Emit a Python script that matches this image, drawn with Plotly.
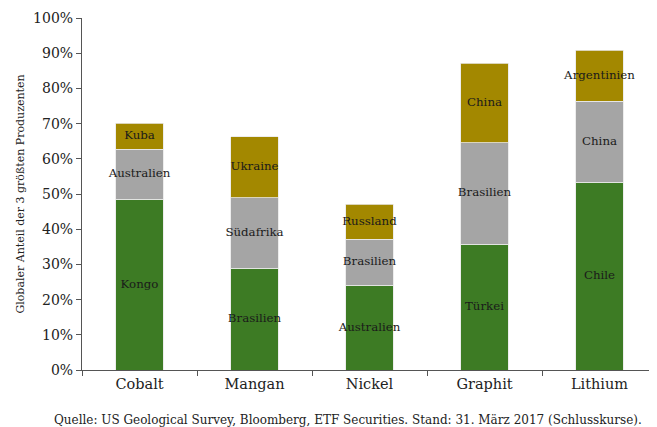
import plotly.graph_objects as go

categories = ["Cobalt", "Mangan", "Nickel", "Graphit", "Lithium"]
first_vals = [48.5, 28.9, 24.1, 35.7, 53.4]
second_vals = [14.2, 20.1, 13.1, 28.9, 22.9]
third_vals = [7.4, 17.3, 9.9, 22.6, 14.5]
first_names = ["Kongo", "Brasilien", "Australien", "Türkei", "Chile"]
second_names = ["Australien", "Südafrika", "Brasilien", "Brasilien", "China"]
third_names = ["Kuba", "Ukraine", "Russland", "China", "Argentinien"]
y_ticks = [0, 10, 20, 30, 40, 50, 60, 70, 80, 90, 100]

colors = ["#3d7b24", "#a5a5a5", "#a38800"]
FONT = "DejaVu Serif"

fig = go.Figure()
series = [first_vals, second_vals, third_vals]
names = [first_names, second_names, third_names]
for vals, col in zip(series, colors):
    fig.add_trace(go.Bar(
        x=categories, y=vals, marker=dict(color=col, line=dict(color="#e8e8e8", width=0.8)),
        width=0.41, showlegend=False, hoverinfo="skip"))

# labels at segment midpoints
base = [0.0] * len(categories)
for vals, lab in zip(series, names):
    mids = [b + v / 2 for b, v in zip(base, vals)]
    fig.add_trace(go.Scatter(
        x=categories, y=mids, text=lab, mode="text",
        textfont=dict(family=FONT, size=11.8, color="#1a1a1a"),
        showlegend=False, hoverinfo="skip"))
    base = [b + v for b, v in zip(base, vals)]

fig.update_layout(
    barmode="stack",
    width=649, height=419,
    margin=dict(l=74, r=0, t=10, b=57),
    plot_bgcolor="white", paper_bgcolor="white",
    font=dict(family=FONT, color="#222"),
    xaxis=dict(
        showline=True, linecolor="#555", linewidth=1.2,
        ticks="outside", tickson="boundaries", ticklen=5, tickcolor="#555",
        tickfont=dict(family=FONT, size=14.5, color="#222"),
        range=[-0.5, 4.5], showgrid=False),
    yaxis=dict(
        range=[0, 100], tickvals=y_ticks,
        ticktext=[f"{v}%" for v in y_ticks],
        showline=True, linecolor="#555", linewidth=1.2,
        ticks="outside", ticklen=5, tickcolor="#555",
        tickfont=dict(family=FONT, size=14, color="#222"),
        showgrid=False, zeroline=False,
        title=dict(text="Globaler Anteil der 3 größten Produzenten",
                   font=dict(family=FONT, size=11, color="#222"), standoff=6)),
    annotations=[dict(
        text="Quelle: US Geological Survey, Bloomberg, ETF Securities. Stand: 31. März 2017 (Schlusskurse).",
        xref="paper", yref="paper", x=0.463, y=-0.142, xanchor="center", yanchor="middle",
        showarrow=False, font=dict(family=FONT, size=12, color="#222"))],
)

fig.write_html("out.html")
